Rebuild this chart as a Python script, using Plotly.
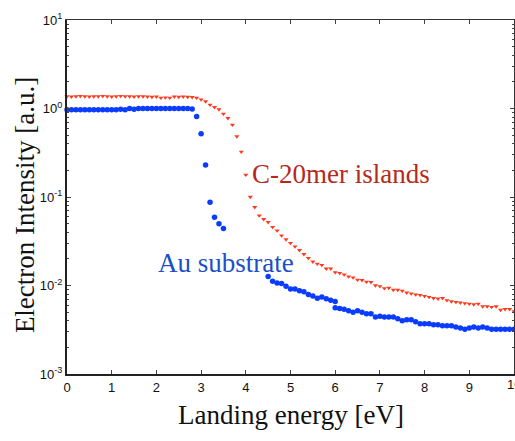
import plotly.graph_objects as go

# ---- data ----
red_x = [round(0.1 * i, 1) for i in range(101)]
red_y = [1.37, 1.36, 1.37, 1.38, 1.37, 1.36, 1.37, 1.37, 1.38, 1.37,
         1.36, 1.37, 1.38, 1.37, 1.37, 1.36, 1.37, 1.37, 1.36, 1.35,
         1.36, 1.32, 1.33, 1.32, 1.36, 1.35, 1.36, 1.35, 1.34,
         1.32, 1.26, 1.20, 1.10, 1.035, 0.975, 0.87, 0.776, 0.655, 0.483,
         0.324, 0.178, 0.100, 0.0767, 0.0617, 0.0562, 0.0519, 0.0457, 0.0417, 0.0367,
         0.0331, 0.0302, 0.0275, 0.0251, 0.0226, 0.0204, 0.0186, 0.0176, 0.0170, 0.0155,
         0.0155, 0.0141, 0.0138, 0.0133, 0.0126, 0.0123, 0.0116, 0.0115, 0.0110, 0.0109,
         0.0100, 0.0098, 0.0093, 0.0094, 0.0089, 0.0089, 0.0087, 0.0083, 0.0081, 0.0079,
         0.0078, 0.0076, 0.0074, 0.0072, 0.0071, 0.0072, 0.0068, 0.0066, 0.0065, 0.0064,
         0.0063, 0.0062, 0.0061, 0.0062, 0.0058, 0.0058, 0.0057, 0.0058, 0.0053, 0.0054,
         0.0054, 0.0051]

blue_x = ([round(0.1 * i, 1) for i in range(36)]
          + [round(4.5 + 0.1 * i, 1) for i in range(16)]
          + [round(6.0 + 0.1 * i, 1) for i in range(41)])
blue_y = [0.97, 0.97, 0.97, 0.97, 0.97, 0.97, 0.97, 0.97, 0.97, 0.97,
          0.97, 0.97, 0.98, 0.97, 1.00, 0.98, 1.00, 1.00, 1.00, 1.00,
          1.00, 1.00, 1.00, 1.00, 1.00, 1.00, 1.00, 1.00, 0.99,
          0.81, 0.52, 0.23, 0.0875, 0.059, 0.050, 0.044,
          0.0126, 0.0112, 0.0107, 0.0105, 0.0098, 0.0091, 0.0091, 0.0087, 0.0085, 0.0079,
          0.0076, 0.0072, 0.0074, 0.0071, 0.0068, 0.0066,
          0.0056, 0.0055, 0.0054, 0.0052, 0.0050, 0.0052, 0.0050, 0.0048, 0.0048, 0.0044,
          0.0045, 0.0044, 0.0044, 0.0044, 0.0042, 0.0040, 0.0041, 0.0041, 0.0039, 0.0037,
          0.0037, 0.0037, 0.0036, 0.0036, 0.0035, 0.0035, 0.0035, 0.0034, 0.0033, 0.0032,
          0.0033, 0.0034, 0.0033, 0.0034, 0.0033, 0.0032, 0.0032, 0.0032, 0.0032, 0.0032,
          0.0032]

x_ticks = list(range(11))
y_tickvals = [0.001, 0.01, 0.1, 1, 10]
y_ticktext = ["10<sup>-3</sup>", "10<sup>-2</sup>", "10<sup>-1</sup>", "10<sup>0</sup>", "10<sup>1</sup>"]

RED = "#ff3a1e"
BLUE = "#0a3cff"

fig = go.Figure()
fig.add_trace(go.Scatter(x=red_x, y=red_y, mode="markers",
                         marker=dict(symbol="triangle-down", size=4.5, color=RED),
                         showlegend=False, cliponaxis=False))
fig.add_trace(go.Scatter(x=blue_x, y=blue_y, mode="markers",
                         marker=dict(symbol="circle", size=5.5, color=BLUE),
                         showlegend=False, cliponaxis=False))
# invisible trace to activate top/right axes
fig.add_trace(go.Scatter(x=[0], y=[1], xaxis="x2", yaxis="y2", mode="markers",
                         marker=dict(opacity=0), showlegend=False, hoverinfo="skip"))

tickfont = dict(family="Liberation Sans, Arial, sans-serif", size=13, color="#111")
serif = "Liberation Serif, Times New Roman, serif"

fig.update_layout(
    width=515, height=441,
    margin=dict(l=67, r=1, t=20, b=67),
    paper_bgcolor="white", plot_bgcolor="white",
    xaxis=dict(range=[0, 10], tickvals=x_ticks, ticks="inside", ticklen=4,
               showline=True, linewidth=2, linecolor="#222", showgrid=False,
               zeroline=False, tickfont=tickfont, automargin=False),
    yaxis=dict(type="log", range=[-3, 1], tickvals=y_tickvals, ticktext=y_ticktext,
               ticks="inside", ticklen=4, showline=True, linewidth=2, linecolor="#222",
               showgrid=False, zeroline=False, tickfont=tickfont, automargin=False,
               minor=dict(ticks="inside", ticklen=2, dtick="D1", tickcolor="#444", showgrid=False)),
    xaxis2=dict(overlaying="x", side="top", range=[0, 10], tickvals=x_ticks, ticks="inside",
                ticklen=4, showticklabels=False, showline=True, linewidth=1, linecolor="#333",
                showgrid=False, zeroline=False, automargin=False),
    yaxis2=dict(overlaying="y", side="right", type="log", range=[-3, 1], tickvals=y_tickvals,
                ticks="inside", ticklen=4, showticklabels=False, showline=True, linewidth=1,
                linecolor="#333", showgrid=False, zeroline=False, automargin=False,
                minor=dict(ticks="inside", ticklen=2, dtick="D1", tickcolor="#444", showgrid=False)),
    annotations=[
        dict(x=0.613, y=0.565, xref="paper", yref="paper", text="C-20mer islands", showarrow=False,
             xanchor="center", yanchor="middle",
             font=dict(family=serif, size=27, color="#b8281a")),
        dict(x=0.355, y=0.314, xref="paper", yref="paper", text="Au substrate", showarrow=False,
             xanchor="center", yanchor="middle",
             font=dict(family=serif, size=27, color="#1c4fc8")),
        dict(x=0.5, y=-0.116, xref="paper", yref="paper", text="Landing energy [eV]", showarrow=False,
             xanchor="center", yanchor="middle",
             font=dict(family=serif, size=27, color="#111")),
        dict(x=-0.094, y=0.477, xref="paper", yref="paper", text="Electron Intensity [a.u.]",
             showarrow=False, textangle=-90, xanchor="center", yanchor="middle",
             font=dict(family=serif, size=27, color="#111")),
        # last x tick label, cut off by the right edge as in the reference
        dict(x=x_ticks[-1], y=0, xref="x", yref="paper", text=str(x_ticks[-1]), showarrow=False,
             xanchor="center", yanchor="middle", yshift=-10, font=tickfont),
    ],
)

fig.write_html("out.html", config={"displayModeBar": False},
               post_script="document.body.style.margin='0';document.body.style.overflow='hidden';")
